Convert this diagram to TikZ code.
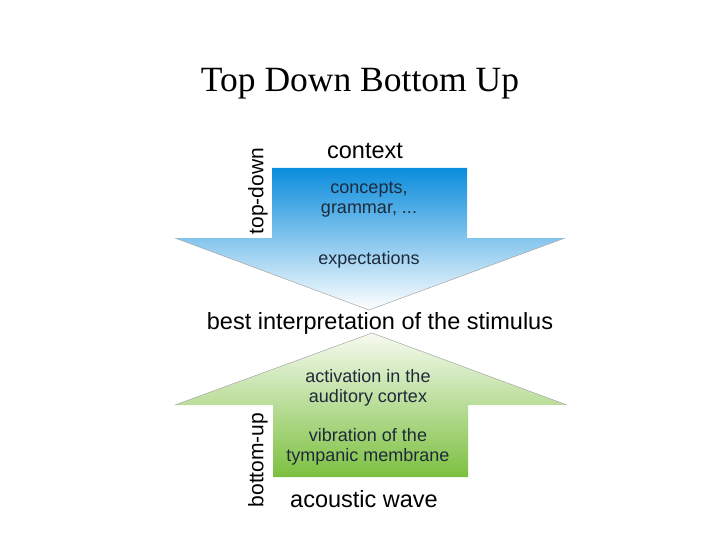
\documentclass[tikz,border=0pt]{standalone}
\usepackage{fontspec}
\setmainfont{Liberation Serif}
\newfontfamily\arialf{Liberation Sans}
\definecolor{tdblue}{HTML}{0A8CDC}
\definecolor{tdmid}{HTML}{6CB9EC}
\definecolor{bugreen}{HTML}{7CC040}
\definecolor{bumid}{HTML}{CFE6B2}
\definecolor{bulight}{HTML}{F6FAF0}
\definecolor{innertxt}{HTML}{1E2A3A}
\tikzset{
  outerlbl/.style={font=\arialf\fontsize{23.5}{26}\selectfont, text=black, inner sep=0pt},
  innerlbl/.style={font=\arialf\fontsize{18}{20}\selectfont, text=innertxt, inner sep=0pt, align=center},
  sidelbl/.style={font=\arialf\fontsize{21}{24}\selectfont, text=black, inner sep=0pt, rotate=90},
  arrowedge/.style={draw=gray!70, line width=0.5pt}
}
\begin{document}
\begin{tikzpicture}[x=1pt,y=-1pt]
\useasboundingbox (0,0) rectangle (720,540);
\fill[white] (0,0) rectangle (720,540);
\node[font=\fontsize{35.5}{40}\selectfont, inner sep=0pt] (title) at (360,84) {Top Down Bottom Up};
% top-down arrow
\shade[top color=tdblue, middle color=tdmid, bottom color=white]
  (272,168) -- (467,168) -- (467,238) -- (565,238) -- (369,310) -- (175,238) -- (272,238) -- cycle;
\draw[arrowedge] (175,238) -- (369,310) -- (565,238);
% bottom-up arrow
\shade[top color=bulight, middle color=bumid, bottom color=bugreen]
  (372,333) -- (567,405) -- (468,405) -- (468,477) -- (273,477) -- (273,405) -- (175,405) -- cycle;
\draw[arrowedge] (175,405) -- (372,333) -- (567,405);
% labels
\node[outerlbl] (context) at (365,151) {context};
\node[innerlbl] (concepts) at (369,200) {concepts,\\grammar, ...};
\node[innerlbl] (expect) at (369,260) {expectations};
\node[outerlbl] (best) at (380,323) {best interpretation of the stimulus};
\node[innerlbl] (activ) at (368,388) {activation in the\\auditory cortex};
\node[innerlbl] (vibr) at (368,447) {vibration of the\\tympanic membrane};
\node[outerlbl] (acoustic) at (364,499) {acoustic wave};
\node[sidelbl] (topdown) at (258,191) {top-down};
\node[sidelbl] (bottomup) at (258,460) {bottom-up};
\end{tikzpicture}
\end{document}
